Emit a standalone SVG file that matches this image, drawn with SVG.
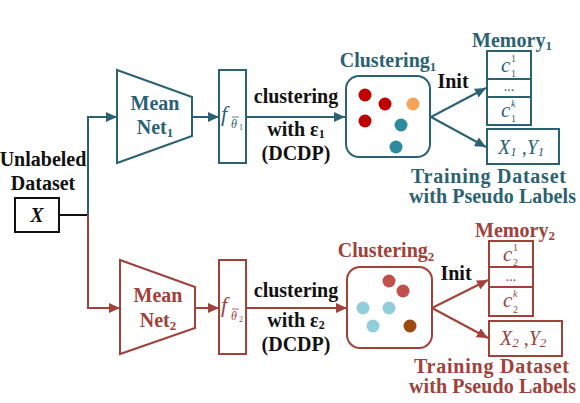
<svg xmlns="http://www.w3.org/2000/svg" width="580" height="403" viewBox="0 0 580 403" font-family="'Liberation Serif', 'DejaVu Serif', serif">
<style>
text{font-family:'Liberation Serif','DejaVu Serif',serif;}
.b{font-weight:bold;font-size:20px;}
.k{fill:#111;}
.t{fill:#2b6272;}
.r{fill:#a0413a;}
.i{font-style:italic;}
.st{fill:none;stroke:#2b6272;stroke-width:2;}
.sr{fill:none;stroke:#a0413a;stroke-width:2;}
.sb{fill:none;stroke:#111;stroke-width:2;}
</style>
<defs>
<marker id="at" viewBox="0 0 11 10" refX="11" refY="5" markerWidth="11" markerHeight="10" markerUnits="userSpaceOnUse" orient="auto"><path d="M0,0 L11,5 L0,10 z" fill="#2b6272"/></marker>
<marker id="ar" viewBox="0 0 11 10" refX="11" refY="5" markerWidth="11" markerHeight="10" markerUnits="userSpaceOnUse" orient="auto"><path d="M0,0 L11,5 L0,10 z" fill="#a0413a"/></marker>
</defs>

<g id="connectors">
<path class="sb" d="M59,215 H88"/>
<path class="st" d="M88,215 V117 H117" marker-end="url(#at)"/>
<path class="st" d="M192,117 H219" marker-end="url(#at)"/>
<path class="st" d="M246,117 H345" marker-end="url(#at)"/>
<path class="st" d="M431,117 L486,88" marker-end="url(#at)"/>
<path class="st" d="M431,117 L486,147" marker-end="url(#at)"/>
<path class="sr" d="M88,215 V308 H120" marker-end="url(#ar)"/>
<path class="sr" d="M195,308 H219" marker-end="url(#ar)"/>
<path class="sr" d="M246,308 H347" marker-end="url(#ar)"/>
<path class="sr" d="M432,308 L488,280" marker-end="url(#ar)"/>
<path class="sr" d="M432,308 L488,338" marker-end="url(#ar)"/>
<text class="b k" x="296" y="103" text-anchor="middle">clustering</text>
<text class="b k" x="296" y="136" text-anchor="middle" font-size="19">with ε<tspan font-size="12" dy="2">1</tspan></text>
<text class="b k" x="296" y="160" text-anchor="middle" font-size="19">(DCDP)</text>
<text class="b k" x="453" y="88" text-anchor="middle">Init</text>
<text class="b k" x="296" y="297" text-anchor="middle">clustering</text>
<text class="b k" x="296" y="327" text-anchor="middle" font-size="19">with ε<tspan font-size="12" dy="2">2</tspan></text>
<text class="b k" x="296" y="351" text-anchor="middle" font-size="19">(DCDP)</text>
<text class="b k" x="456" y="280" text-anchor="middle">Init</text>
</g>

<g id="input">
<text class="b k" x="43" y="166" text-anchor="middle">Unlabeled</text>
<text class="b k" x="43" y="190" text-anchor="middle">Dataset</text>
<rect class="sb" x="15" y="198" width="44" height="34"/>
<text class="i k" x="37" y="222" font-size="20" font-weight="bold" text-anchor="middle">X</text>
</g>

<g id="meannet1">
<path class="st" d="M117,70 L192,97 L192,136 L117,163 Z"/>
<text class="b t" x="155" y="110" text-anchor="middle">Mean</text>
<text class="b t" x="155" y="134" text-anchor="middle">Net<tspan font-size="13" dy="3">1</tspan></text>
</g>
<g id="f1">
<rect class="st" x="219" y="70" width="27" height="93"/>
<text class="i t" x="221" y="121" font-size="22">f</text>
<text class="i t" x="231" y="128" font-size="12">θ</text>
<line x1="232" y1="117" x2="239" y2="117" stroke="#2b6272" stroke-width="0.8"/>
<text class="t" x="239" y="130" font-size="8">1</text>
</g>
<g id="clustering1">
<text class="b t" x="388" y="67" text-anchor="middle">Clustering<tspan font-size="13" dy="4">1</tspan></text>
<rect class="st" x="346" y="76" width="84" height="81" rx="13"/>
<circle cx="365" cy="95" r="6.5" fill="#c00000"/>
<circle cx="385" cy="104" r="6.5" fill="#c00000"/>
<circle cx="365" cy="121" r="6.5" fill="#c00000"/>
<circle cx="413" cy="104" r="6.5" fill="#f4a15a"/>
<circle cx="401" cy="125" r="6.5" fill="#2e8b9e"/>
<circle cx="396" cy="147" r="6.5" fill="#2e8b9e"/>
</g>
<g id="memory1">
<text class="b t" x="512" y="47" text-anchor="middle">Memory<tspan font-size="13" dy="3">1</tspan></text>
<rect class="st" x="487" y="51" width="44" height="28"/>
<rect class="st" x="487" y="79" width="44" height="18"/>
<rect class="st" x="487" y="97" width="44" height="28"/>
<text class="i t" x="501" y="72" font-size="21">c</text>
<text class="t" x="511" y="62" font-size="10">1</text>
<text class="t" x="511" y="77" font-size="10">1</text>
<text class="t" x="509" y="91" font-size="14" text-anchor="middle">...</text>
<text class="i t" x="501" y="117" font-size="21">c</text>
<text class="i t" x="511" y="107" font-size="10">k</text>
<text class="t" x="511" y="122" font-size="10">1</text>
</g>
<g id="dataset1">
<rect class="st" x="487" y="129" width="72" height="35"/>
<text class="i t" x="498" y="154" font-size="20">X<tspan font-size="13" dy="2">1</tspan><tspan dy="-2"> ,Y</tspan><tspan font-size="13" dy="2">1</tspan></text>
<text class="b t" x="411" y="183" font-size="18" textLength="155" lengthAdjust="spacing">Training Dataset</text>
<text class="b t" x="409" y="203" font-size="18" textLength="167" lengthAdjust="spacing">with Pseudo Labels</text>
</g>

<g id="meannet2">
<path class="sr" d="M120,260 L195,287 L195,328 L120,354 Z"/>
<text class="b r" x="158" y="302" text-anchor="middle">Mean</text>
<text class="b r" x="158" y="327" text-anchor="middle">Net<tspan font-size="13" dy="3">2</tspan></text>
</g>
<g id="f2">
<rect class="sr" x="219" y="260" width="27" height="94"/>
<text class="i r" x="221" y="312" font-size="22">f</text>
<text class="i r" x="231" y="320" font-size="12">θ</text>
<line x1="232" y1="309" x2="239" y2="309" stroke="#a0413a" stroke-width="0.8"/>
<text class="r" x="239" y="322" font-size="8">2</text>
</g>
<g id="clustering2">
<text class="b r" x="386" y="257" text-anchor="middle">Clustering<tspan font-size="13" dy="4">2</tspan></text>
<rect class="sr" x="347" y="267" width="85" height="81" rx="13"/>
<circle cx="389" cy="281" r="6.5" fill="#c0504d"/>
<circle cx="403" cy="291" r="6.5" fill="#c0504d"/>
<circle cx="363" cy="308" r="6.5" fill="#92cddc"/>
<circle cx="389" cy="308" r="6.5" fill="#92cddc"/>
<circle cx="373" cy="326" r="6.5" fill="#92cddc"/>
<circle cx="410" cy="326" r="6.5" fill="#9c4a10"/>
</g>
<g id="memory2">
<text class="b r" x="515" y="237" text-anchor="middle">Memory<tspan font-size="13" dy="3">2</tspan></text>
<rect class="sr" x="489" y="241" width="44" height="26"/>
<rect class="sr" x="489" y="267" width="44" height="20"/>
<rect class="sr" x="489" y="287" width="44" height="29"/>
<text class="i r" x="503" y="261" font-size="21">c</text>
<text class="r" x="513" y="251" font-size="10">1</text>
<text class="r" x="513" y="266" font-size="10">2</text>
<text class="r" x="511" y="281" font-size="14" text-anchor="middle">...</text>
<text class="i r" x="503" y="307" font-size="21">c</text>
<text class="i r" x="513" y="297" font-size="10">k</text>
<text class="r" x="513" y="313" font-size="10">2</text>
</g>
<g id="dataset2">
<rect class="sr" x="489" y="321" width="73" height="35"/>
<text class="i r" x="500" y="345" font-size="20">X<tspan font-size="13" dy="2">2</tspan><tspan dy="-2"> ,Y</tspan><tspan font-size="13" dy="2">2</tspan></text>
<text class="b r" x="414" y="373" font-size="18" textLength="155" lengthAdjust="spacing">Training Dataset</text>
<text class="b r" x="409" y="393" font-size="18" textLength="167" lengthAdjust="spacing">with Pseudo Labels</text>
</g>
</svg>
